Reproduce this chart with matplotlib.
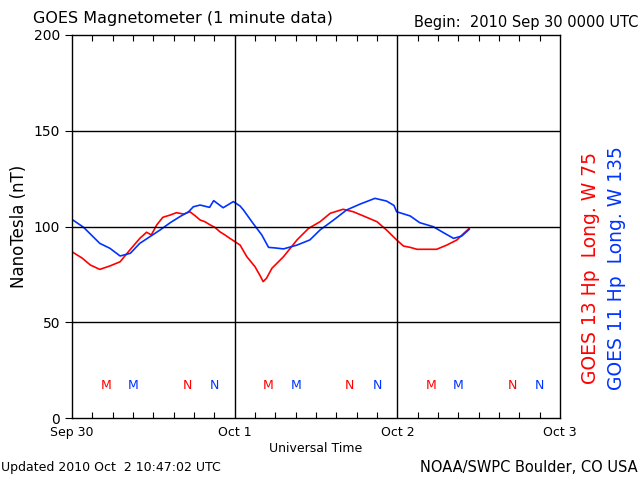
import numpy as np
import matplotlib
matplotlib.use("Agg")
import matplotlib.pyplot as plt

# hours since 2010 Sep 30 00 UTC, field in nT
g13_hours = [0, 1.5, 2.7, 4.1, 5.6, 7.1, 8.6, 10.0, 11.0, 11.7, 12.5, 13.4, 14.5, 15.4, 16.5, 17.4,
             18.2, 18.9, 19.6, 20.4, 21.1, 21.8, 22.6, 23.3, 24.8, 25.8, 27.0, 27.8, 28.2, 28.7,
             29.5, 31.2, 33.2, 34.9, 36.6, 38.1, 40.0, 41.5, 43.0, 45.0, 46.4, 47.9, 48.9, 49.9,
             50.9, 52.5, 53.8, 55.3, 56.8, 57.7, 58.6]
g13_nT = [86.8, 83.5, 79.9, 77.6, 79.4, 81.6, 88.0, 93.8, 97.0, 95.6, 100.8, 104.8, 106.0, 107.2,
          106.5, 107.7, 105.5, 103.4, 102.5, 100.8, 99.5, 97.3, 95.5, 93.8, 90.3, 84.2, 79.0, 74.0,
          71.2, 73.0, 78.2, 84.2, 93.0, 99.0, 102.5, 106.9, 109.0, 107.7, 105.5, 102.5, 98.2, 93.0,
          89.8, 89.1, 88.1, 88.1, 88.1, 90.3, 93.0, 96.1, 99.0]

g11_hours = [0, 1.7, 3.1, 4.1, 5.6, 7.1, 8.6, 10.0, 11.5, 13.0, 14.5, 15.9, 17.2, 17.9, 18.9, 20.3,
             20.9, 22.3, 23.8, 24.8, 25.3, 26.7, 28.0, 29.0, 30.0, 31.2, 33.2, 35.1, 36.6, 38.6,
             40.5, 42.5, 44.7, 46.4, 47.5, 47.9, 49.9, 51.3, 53.3, 54.8, 56.3, 57.5, 58.6]
g11_nT = [103.7, 99.6, 94.7, 91.2, 88.6, 84.6, 86.0, 91.2, 94.7, 98.2, 102.0, 105.1, 107.7, 110.3,
          111.2, 110.0, 113.5, 109.8, 113.0, 110.7, 108.6, 101.7, 95.6, 89.1, 88.8, 88.3, 90.3, 93.0,
          98.2, 103.4, 108.6, 111.7, 114.7, 113.3, 111.0, 107.7, 105.5, 102.0, 99.9, 96.8, 93.8,
          95.0, 98.5]

# local noon/midnight marks (hour of day) for each satellite
g13_M, g11_M, g13_N, g11_N = 5, 9, 17, 21
mark_level = 17

day_labels = ["Sep 30", "Oct 1", "Oct 2", "Oct 3"]
red, blue = "#ff0000", "#0033ff"

fig = plt.figure(figsize=(6.4, 4.8), dpi=100)
ax = fig.add_axes([72 / 640, 62 / 480, 488 / 640, 383 / 480])

ax.plot(g13_hours, g13_nT, color=red, lw=1.2)
ax.plot(g11_hours, g11_nT, color=blue, lw=1.2)

for d in range(3):
    for h, lab, c in [(g13_M, "M", red), (g11_M, "M", blue), (g13_N, "N", red), (g11_N, "N", blue)]:
        ax.text(d * 24 + h, mark_level, lab, color=c, ha="center", va="center", fontsize=9)

ax.set_xlim(0, 72)
ax.set_ylim(0, 200)
ax.set_xticks([0, 24, 48, 72])
ax.set_xticklabels(day_labels, fontsize=9)
ax.set_xticks(np.arange(0, 73, 3), minor=True)
ax.tick_params(axis="x", which="minor", direction="in", length=4, top=True, width=0.8)
ax.tick_params(axis="x", which="major", direction="in", length=0, top=True, pad=6)
ax.set_yticks([0, 50, 100, 150, 200])
ax.set_yticklabels(["0", "50", "100", "150", "200"], fontsize=10)
ax.tick_params(axis="y", direction="out", length=5, width=0.8)
for v in [24, 48]:
    ax.axvline(v, color="black", lw=1)
for v in [50, 100, 150]:
    ax.axhline(v, color="black", lw=1)
for s in ax.spines.values():
    s.set_linewidth(1)

ax.set_xlabel("Universal Time", fontsize=9, labelpad=2)
ax.set_ylabel("NanoTesla (nT)", fontsize=12, labelpad=4)

fig.text(33 / 640, 1 - 18 / 480, "GOES Magnetometer (1 minute data)", fontsize=11.5, va="center")
fig.text(638 / 640, 1 - 22 / 480, "Begin:  2010 Sep 30 0000 UTC", fontsize=10.5, va="center", ha="right")
fig.text(1 / 640, 1 - 468 / 480, "Updated 2010 Oct  2 10:47:02 UTC", fontsize=9, va="center")
fig.text(638 / 640, 1 - 468 / 480, "NOAA/SWPC Boulder, CO USA", fontsize=10.5, va="center", ha="right")

fig.text(591 / 640, 1 - 268 / 480, "GOES 13 Hp  Long. W 75", color=red, rotation=90,
         fontsize=13.5, ha="center", va="center")
fig.text(617 / 640, 1 - 268 / 480, "GOES 11 Hp  Long. W 135", color=blue, rotation=90,
         fontsize=13.5, ha="center", va="center")

fig.savefig("out.png", dpi=100)
